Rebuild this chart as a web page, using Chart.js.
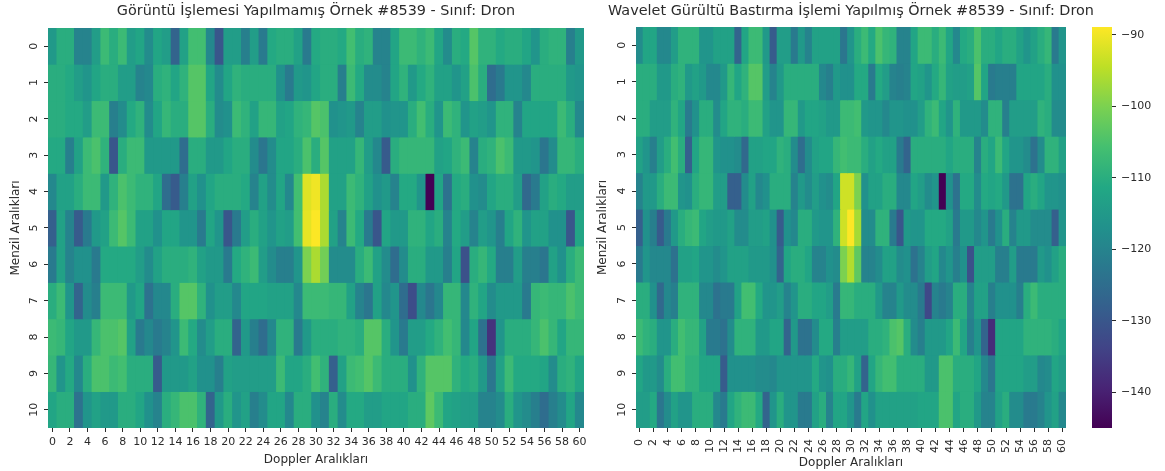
<!DOCTYPE html>
<html>
<head>
<meta charset="utf-8">
<title>Heatmap</title>
<script src="https://cdn.jsdelivr.net/npm/chart.js@4"></script>
<style>
html, body { margin: 0; padding: 0; background: #fff; }
body { width: 1165px; height: 471px; overflow: hidden; position: relative; }
.box { position: absolute; top: 0; height: 471px; }
canvas { filter: blur(0.6px); }
</style>
</head>
<body>
<div class="box" style="left:0;width:632px"><canvas id="leftChart"></canvas></div>
<div class="box" style="left:590px;width:522px"><canvas id="rightChart"></canvas></div>
<div class="box" style="left:1072px;width:93px"><canvas id="barChart"></canvas></div>
<script>
const dopplerLabels = ['0','1','2','3','4','5','6','7','8','9','10','11','12','13','14','15','16','17','18','19','20',
    '21','22','23','24','25','26','27','28','29','30','31','32','33','34','35','36','37','38','39','40',
    '41','42','43','44','45','46','47','48','49','50','51','52','53','54','55','56','57','58','59','60'];
const rangeTicks = [0,1,2,3,4,5,6,7,8,9,10];
const colorbarTicks = [-90,-100,-110,-120,-130,-140];
const colorMin = -145;
const colorMax = -88.9;

// one line per Menzil row, left to right by Doppler bin
const originalRows = [
 [-115,-110,-110,-120,-120,-114,-107,-110,-107,-114,-112,-118,-112,-114,-127,-113,-106,-106,-119,-130,-114,-114,-121,-114,-122,-111,-110,-110,-113,-122,-111,-110,-110,-111,-106,-110,-109,-120,-120,-112,-107,-107,-109,-107,-112,-118,-110,-111,-104,-109,-109,-111,-110,-110,-112,-116,-110,-109,-109,-121,-115],
 [-110,-110,-111,-114,-116,-112,-110,-110,-114,-114,-120,-119,-110,-109,-112,-109,-104,-104,-112,-118,-112,-109,-110,-110,-110,-110,-117,-122,-115,-116,-112,-110,-110,-121,-107,-111,-118,-118,-120,-112,-109,-115,-111,-109,-113,-113,-116,-113,-105,-110,-125,-122,-116,-116,-119,-110,-110,-110,-110,-115,-116],
 [-110,-110,-111,-111,-114,-107,-107,-121,-118,-111,-109,-118,-112,-108,-110,-110,-104,-104,-110,-118,-117,-107,-109,-113,-108,-108,-113,-112,-109,-108,-104,-105,-117,-116,-115,-120,-114,-114,-117,-116,-116,-110,-106,-110,-116,-107,-109,-116,-113,-114,-116,-109,-109,-120,-112,-112,-112,-112,-107,-110,-119],
 [-111,-111,-121,-113,-107,-105,-109,-130,-110,-107,-107,-115,-115,-115,-115,-125,-110,-110,-115,-115,-112,-110,-110,-118,-123,-118,-112,-112,-110,-105,-110,-104,-113,-113,-113,-108,-114,-119,-129,-110,-108,-108,-108,-108,-113,-112,-109,-107,-120,-110,-109,-105,-107,-115,-115,-116,-123,-118,-108,-108,-110],
 [-119,-113,-113,-110,-107,-107,-115,-109,-105,-107,-109,-109,-112,-125,-129,-121,-113,-117,-112,-110,-110,-110,-111,-120,-113,-118,-112,-119,-106,-91.5,-90,-96,-113,-113,-107,-109,-113,-117,-115,-120,-111,-111,-116,-145,-112,-124,-111,-110,-117,-118,-112,-110,-110,-114,-126,-122,-113,-110,-111,-114,-114],
 [-128,-113,-120,-129,-122,-115,-113,-107,-104,-107,-113,-113,-117,-112,-112,-116,-116,-122,-112,-116,-130,-122,-114,-110,-113,-116,-113,-114,-106,-91,-89,-96,-113,-120,-107,-111,-122,-130,-112,-115,-115,-109,-109,-112,-110,-120,-111,-114,-120,-114,-116,-121,-112,-109,-116,-113,-113,-117,-117,-130,-112],
 [-122,-113,-120,-117,-117,-122,-111,-111,-111,-111,-114,-118,-113,-110,-110,-110,-109,-113,-115,-115,-122,-111,-109,-107,-114,-118,-121,-121,-116,-100,-96,-101,-118,-118,-118,-110,-107,-113,-118,-125,-118,-110,-110,-115,-115,-121,-112,-131,-110,-108,-111,-121,-121,-114,-121,-121,-123,-113,-117,-110,-107],
 [-110,-107,-116,-127,-118,-121,-107,-107,-107,-115,-112,-124,-119,-119,-110,-104,-104,-109,-117,-114,-114,-119,-112,-112,-112,-113,-113,-113,-119,-107,-107,-107,-108,-108,-113,-120,-123,-113,-119,-116,-125,-132,-119,-123,-119,-108,-108,-119,-109,-112,-118,-115,-115,-115,-122,-108,-107,-108,-108,-105,-107],
 [-107,-108,-112,-115,-115,-108,-105,-105,-104,-113,-122,-119,-122,-120,-116,-107,-111,-118,-114,-110,-110,-127,-115,-121,-125,-119,-109,-109,-122,-115,-110,-110,-110,-109,-109,-110,-104,-104,-110,-116,-122,-114,-114,-111,-109,-106,-108,-119,-112,-124,-137,-116,-110,-110,-110,-108,-105,-108,-112,-108,-108],
 [-108,-116,-111,-119,-110,-105,-105,-107,-106,-110,-110,-110,-129,-115,-115,-115,-113,-117,-117,-121,-113,-114,-114,-114,-114,-114,-107,-112,-112,-110,-106,-109,-128,-113,-107,-106,-104,-107,-110,-110,-110,-117,-109,-104,-104,-104,-109,-111,-110,-115,-123,-113,-107,-111,-111,-111,-112,-118,-110,-109,-112],
 [-112,-110,-110,-124,-116,-113,-115,-115,-110,-110,-112,-117,-120,-110,-108,-105,-105,-109,-127,-115,-110,-116,-113,-121,-118,-112,-112,-119,-110,-110,-117,-120,-110,-118,-111,-111,-114,-114,-112,-112,-112,-110,-110,-103,-107,-112,-113,-114,-114,-120,-120,-118,-110,-116,-118,-121,-125,-121,-118,-112,-119]
];

const waveletRows = [
 [-118,-112,-112,-119,-119,-114,-109,-109,-109,-116,-116,-113,-113,-113,-127,-112,-107,-107,-115,-129,-114,-114,-122,-115,-120,-113,-113,-113,-113,-123,-116,-110,-107,-111,-105,-108,-109,-120,-120,-112,-107,-107,-110,-107,-112,-119,-111,-110,-105,-110,-110,-112,-110,-110,-113,-116,-113,-110,-108,-122,-116],
 [-110,-110,-110,-115,-115,-110,-109,-115,-113,-115,-119,-119,-115,-108,-112,-109,-104,-104,-114,-120,-115,-110,-110,-110,-110,-110,-119,-121,-115,-117,-117,-111,-111,-122,-111,-114,-120,-121,-120,-112,-113,-116,-111,-108,-113,-114,-114,-113,-104,-112,-122,-121,-121,-121,-112,-112,-112,-112,-110,-117,-117],
 [-110,-110,-114,-114,-114,-109,-112,-122,-117,-110,-110,-118,-112,-109,-109,-110,-107,-107,-113,-116,-116,-108,-108,-115,-112,-112,-113,-115,-115,-107,-107,-106,-115,-116,-116,-119,-116,-116,-117,-117,-114,-109,-107,-112,-116,-109,-115,-115,-115,-118,-109,-109,-121,-114,-114,-114,-114,-109,-110,-118,-118],
 [-113,-116,-121,-114,-110,-106,-110,-128,-112,-108,-108,-116,-117,-117,-118,-126,-113,-113,-112,-112,-109,-110,-118,-125,-118,-113,-112,-112,-108,-106,-107,-107,-110,-113,-111,-113,-113,-122,-127,-110,-110,-110,-110,-110,-112,-110,-110,-110,-120,-110,-112,-107,-112,-116,-116,-118,-124,-118,-109,-109,-113],
 [-120,-115,-115,-110,-107,-107,-116,-117,-110,-108,-108,-114,-114,-128,-128,-118,-113,-119,-117,-110,-110,-110,-120,-115,-118,-114,-117,-118,-112,-93,-93,-100,-117,-113,-113,-110,-110,-119,-119,-112,-114,-118,-116,-145,-117,-124,-111,-111,-118,-111,-112,-111,-115,-124,-124,-112,-110,-112,-116,-116,-117],
 [-128,-117,-121,-129,-122,-115,-110,-108,-107,-112,-114,-115,-115,-113,-118,-118,-114,-114,-113,-117,-129,-117,-119,-110,-110,-115,-116,-116,-109,-93,-89,-96.5,-118,-118,-109,-109,-122,-130,-115,-116,-116,-111,-111,-111,-113,-122,-115,-115,-119,-116,-122,-117,-110,-120,-115,-115,-118,-118,-118,-128,-116],
 [-122,-116,-119,-119,-119,-124,-113,-113,-112,-116,-116,-118,-116,-113,-113,-113,-115,-115,-115,-117,-127,-112,-110,-110,-112,-120,-120,-117,-118,-100,-95.5,-103,-120,-120,-118,-113,-113,-118,-117,-124,-120,-114,-112,-119,-116,-121,-117,-131,-114,-114,-114,-121,-121,-114,-122,-122,-122,-115,-117,-113,-110],
 [-110,-110,-117,-126,-119,-121,-109,-109,-109,-119,-119,-124,-122,-122,-113,-106,-106,-111,-116,-116,-114,-120,-116,-110,-110,-112,-112,-114,-122,-108,-108,-110,-110,-110,-115,-120,-120,-115,-118,-118,-122,-133,-120,-122,-120,-110,-110,-120,-113,-113,-121,-117,-117,-117,-121,-110,-107,-110,-110,-110,-110],
 [-107,-109,-110,-116,-116,-110,-106,-108,-108,-113,-122,-122,-124,-118,-109,-109,-109,-115,-115,-112,-112,-127,-115,-124,-124,-118,-111,-111,-121,-114,-114,-114,-114,-110,-110,-109,-105,-104,-110,-118,-121,-115,-115,-115,-112,-107,-112,-121,-116,-127,-138,-112,-112,-112,-112,-109,-109,-109,-109,-110,-112],
 [-112,-115,-115,-118,-110,-106,-106,-109,-109,-112,-112,-112,-129,-117,-117,-117,-117,-118,-118,-119,-116,-116,-116,-116,-116,-111,-116,-117,-110,-110,-108,-113,-127,-112,-108,-106,-106,-110,-110,-110,-110,-115,-115,-105,-105,-110,-110,-110,-112,-119,-123,-112,-112,-112,-112,-114,-114,-119,-118,-112,-114],
 [-114,-114,-111,-123,-118,-113,-116,-116,-110,-110,-110,-119,-122,-112,-109,-107,-107,-111,-127,-116,-110,-116,-116,-122,-122,-113,-110,-120,-112,-112,-116,-122,-112,-117,-113,-113,-113,-113,-113,-113,-112,-112,-112,-105,-105,-112,-110,-110,-115,-120,-120,-113,-110,-118,-118,-122,-122,-120,-116,-113,-119]
];

const viridis = ['#440154','#482475','#414487','#355f8d','#2a788e','#21918c','#22a884','#44bf70','#7ad151','#bddf26','#fde725'];
const textColor = '#2b2b2b';
const fontName = '"DejaVu Sans"';

function hexToRgb(hex) {
    return [1, 3, 5].map(i => parseInt(hex.slice(i, i + 2), 16));
}

// value (dB) to viridis colour
function colorFor(value) {
    let t = (value - colorMin) / (colorMax - colorMin) * (viridis.length - 1);
    t = Math.max(0, Math.min(viridis.length - 1.001, t));
    const i = Math.floor(t);
    const a = hexToRgb(viridis[i]);
    const b = hexToRgb(viridis[i + 1]);
    const c = a.map((v, k) => Math.round(v + (b[k] - v) * (t - i)));
    return `rgb(${c[0]},${c[1]},${c[2]})`;
}

// cells are floating bars spanning one Menzil row
function rowLayer(rows, halfHeight, barPercentage) {
    return rows.map((row, r) => ({
        data: row.map(() => [rangeTicks[r] - halfHeight, rangeTicks[r] + halfHeight]),
        backgroundColor: row.map(colorFor),
        borderWidth: 0,
        grouped: false,
        barPercentage: barPercentage,
        categoryPercentage: 1
    }));
}

// center the title over the plot, not over the whole canvas
const centerTitle = {
    id: 'centerTitle',
    afterLayout(chart) {
        const t = chart.titleBlock;
        const c = (chart.chartArea.left + chart.chartArea.right) / 2;
        const half = Math.min(c, chart.width - c);
        t.left = c - half;
        t.right = c + half;
        t.width = half * 2;
    }
};

function heatmap(id, rows, title, cfg) {
    new Chart(document.getElementById(id), {
        type: 'bar',
        plugins: [centerTitle],
        data: {
            labels: dopplerLabels,
            // first datasets are painted last: exact cells on top, a slightly larger copy under them hides the seams
            datasets: rowLayer(rows, 0.5, 1).concat(rowLayer(rows, 0.53, 1.3))
        },
        options: {
            responsive: true,
            maintainAspectRatio: false,
            animation: false,
            layout: { padding: { right: cfg.rightPad } },
            plugins: {
                legend: { display: false },
                tooltip: { enabled: false },
                title: {
                    display: true,
                    text: title,
                    color: textColor,
                    font: { family: fontName, size: 14.4, weight: 'normal' },
                    padding: { top: 3, bottom: cfg.titleGap }
                }
            },
            scales: {
                x: {
                    offset: true,
                    grid: { offset: false, drawOnChartArea: false, tickLength: 4, tickColor: textColor },
                    border: { display: false },
                    ticks: {
                        color: textColor,
                        font: { family: fontName, size: 11 },
                        autoSkip: false,
                        minRotation: cfg.tickRotation,
                        maxRotation: cfg.tickRotation,
                        padding: cfg.tickPad
                    },
                    afterBuildTicks: s => { s.ticks = s.ticks.filter(t => t.value % 2 === 0); },
                    afterFit: s => { s.height = 43; s.paddingLeft = 0; s.paddingRight = 0; },
                    title: {
                        display: true,
                        text: 'Doppler Aralıkları',
                        color: textColor,
                        font: { family: fontName, size: 12 },
                        padding: { top: 0, bottom: cfg.xTitleBottom }
                    }
                },
                y: {
                    type: 'linear',
                    reverse: true,
                    min: -0.5,
                    max: 10.5,
                    grid: { drawOnChartArea: false, tickLength: 4, tickColor: textColor },
                    border: { display: false },
                    ticks: {
                        color: textColor,
                        font: { family: fontName, size: 11 },
                        minRotation: 90,
                        maxRotation: 90,
                        crossAlign: 'center',
                        padding: 3
                    },
                    afterBuildTicks: s => { s.ticks = rangeTicks.map(v => ({ value: v })); },
                    afterFit: s => { s.width = cfg.yWidth; s.paddingTop = 0; s.paddingBottom = 0; },
                    title: {
                        display: true,
                        text: 'Menzil Aralıkları',
                        color: textColor,
                        font: { family: fontName, size: 12 },
                        padding: { top: cfg.yTitleLeft, bottom: 0 }
                    }
                }
            }
        }
    });
}

heatmap('leftChart', originalRows, 'Görüntü İşlemesi Yapılmamış Örnek #8539 - Sınıf: Dron',
    { tickRotation: 0, tickPad: 4, titleGap: 7.7, xTitleBottom: 4, yTitleLeft: 9, yWidth: 48, rightPad: 48 });
heatmap('rightChart', waveletRows, 'Wavelet Gürültü Bastırma İşlemi Yapılmış Örnek #8539 - Sınıf: Dron',
    { tickRotation: 90, tickPad: 7, titleGap: 6.7, xTitleBottom: 1, yTitleLeft: 6, yWidth: 46, rightPad: 46 });

// colorbar: one tall floating bar filled with the colormap
new Chart(document.getElementById('barChart'), {
    type: 'bar',
    data: {
        labels: [''],
        datasets: [{
            data: [[colorMin, colorMax]],
            barPercentage: 1,
            categoryPercentage: 1,
            borderWidth: 0,
            backgroundColor: ctx => {
                const area = ctx.chart.chartArea;
                if (!area) return viridis[5];
                const g = ctx.chart.ctx.createLinearGradient(0, area.bottom, 0, area.top);
                viridis.forEach((c, i) => g.addColorStop(i / (viridis.length - 1), c));
                return g;
            }
        }]
    },
    options: {
        responsive: true,
        maintainAspectRatio: false,
        animation: false,
        layout: { padding: { left: 20, top: 27, bottom: 43 } },
        plugins: { legend: { display: false }, tooltip: { enabled: false } },
        scales: {
            x: { display: false },
            y: {
                position: 'right',
                min: colorMin,
                max: colorMax,
                grid: { drawOnChartArea: false, tickLength: 4, tickColor: textColor },
                border: { display: false },
                ticks: {
                    color: textColor,
                    font: { family: fontName, size: 11 },
                    padding: 5,
                    callback: v => '\u2212' + Math.abs(v)
                },
                afterBuildTicks: s => { s.ticks = colorbarTicks.map(v => ({ value: v })); },
                afterFit: s => { s.width = 53; }
            }
        }
    }
});
</script>
</body>
</html>
